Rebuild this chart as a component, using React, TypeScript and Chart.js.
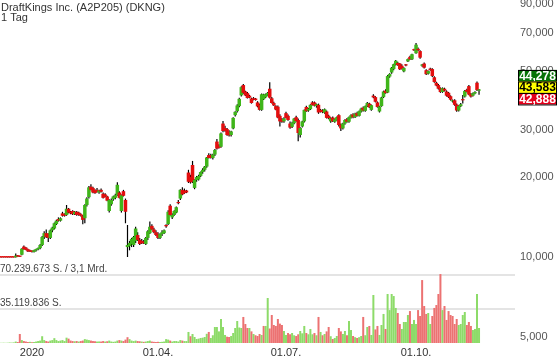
import React, { useEffect, useRef } from 'react';
import { Chart, registerables } from 'chart.js';

Chart.register(...registerables);

// [open, high, low, close] per trading day (index 0 = early Dec 2019)
const candles: number[][] = [
  [10.0,10.0,9.96,9.97],[10.0,10.0,9.96,9.97],[10.0,10.0,9.96,9.97],[10.0,10.0,9.96,9.97],
  [10.0,10.0,9.96,9.97],[10.0,10.0,9.96,9.97],[10.0,10.0,9.96,9.97],[10.0,10.0,9.96,9.97],
  [9.98,10.3,9.97,10.12],[10.12,10.18,10.02,10.05],[10.08,10.12,10.0,10.02],[10.2,10.8,10.15,10.75],
  [10.95,11.05,10.65,10.7],[10.85,10.9,10.6,10.65],[10.7,10.75,10.45,10.5],[10.6,10.65,10.45,10.5],
  [10.55,10.6,10.4,10.45],[10.45,10.65,10.4,10.6],[10.6,10.75,10.5,10.7],[10.7,10.85,10.6,10.8],
  [10.8,11.2,10.7,11.1],[11.1,12.0,11.0,11.9],[11.9,12.5,11.7,12.3],[12.3,12.7,11.8,11.9],
  [12.2,12.3,11.4,11.8],[11.8,12.7,11.7,12.6],[12.6,13.0,12.4,12.9],[12.8,13.5,12.7,13.4],
  [13.3,13.8,13.2,13.7],[13.9,14.1,13.6,13.7],[13.7,14.1,13.6,14.0],[14.6,14.8,14.2,14.3],
  [14.5,14.6,14.2,14.3],[14.4,15.7,14.3,15.2],[15.2,15.3,14.6,14.7],[14.8,14.9,14.5,14.6],
  [14.9,15.0,14.4,14.5],[14.5,14.9,14.4,14.8],[14.8,14.9,14.3,14.4],[14.7,14.8,14.3,14.4],
  [14.5,14.6,14.2,14.3],[14.3,14.4,13.3,13.8],[14.0,15.8,13.4,15.7],[15.7,16.8,15.5,16.6],
  [16.8,18.5,16.6,18.3],[18.4,18.8,17.8,17.9],[18.2,18.4,17.4,17.5],[17.8,18.0,17.3,17.4],
  [17.9,18.2,17.5,17.6],[17.5,17.9,17.3,17.8],[17.9,18.1,17.5,17.6],[17.3,17.5,16.6,16.7],
  [17.2,17.4,16.8,16.9],[16.9,17.0,16.2,16.3],[14.9,16.5,14.7,16.4],[15.8,16.6,15.6,16.4],
  [16.5,17.0,16.3,16.9],[16.7,17.3,16.5,17.1],[17.1,19.1,17.0,18.7],[17.5,17.7,16.6,16.7],
  [14.9,17.2,14.7,17.1],[17.7,17.9,16.9,17.0],[16.4,16.6,13.4,14.8],[10.9,13.2,10.0,11.1],
  [11.0,11.5,10.6,11.3],[11.2,11.8,10.9,11.7],[11.1,12.0,10.9,11.9],[11.5,13.0,11.3,12.8],
  [12.1,12.4,11.5,11.6],[11.6,11.8,11.1,11.2],[11.5,11.7,11.2,11.3],[11.4,11.6,11.2,11.25],
  [11.2,11.9,11.1,11.8],[11.8,12.6,11.6,12.5],[12.3,13.6,12.2,13.0],[13.1,13.3,12.6,12.7],
  [12.7,12.9,12.3,12.4],[12.4,12.6,12.0,12.1],[12.2,12.4,11.7,11.8],[11.8,12.3,11.7,12.2],
  [12.2,12.6,12.0,12.4],[12.3,12.7,12.2,12.6],[13.2,13.3,12.9,13.05],[13.3,15.0,13.2,14.8],
  [15.6,15.8,14.3,14.4],[14.1,14.6,13.9,14.4],[14.4,15.0,14.3,14.9],[14.7,15.5,14.6,15.4],
  [16.1,16.4,15.8,15.95],[16.6,18.0,16.4,17.9],[17.9,18.3,17.1,17.2],[17.8,18.1,17.3,17.4],
  [17.8,17.9,17.4,17.5],[20.8,21.3,19.0,19.2],[20.0,20.4,18.9,19.1],[22.2,23.0,19.0,19.2],
  [18.2,19.6,18.0,19.5],[19.5,20.2,19.2,20.0],[19.6,20.4,19.4,20.2],[20.2,21.0,20.0,20.9],
  [20.9,21.6,20.6,21.3],[21.3,22.0,21.0,21.9],[21.9,23.8,21.7,23.7],[24.2,24.6,23.5,23.6],
  [24.2,24.5,23.5,23.6],[23.6,24.5,23.3,24.3],[24.3,25.5,24.0,25.3],[27.2,27.8,25.4,25.6],
  [26.3,26.6,25.6,25.8],[26.0,29.4,25.8,29.2],[31.8,32.5,29.5,29.8],[30.6,31.2,29.6,29.9],
  [30.3,30.6,28.6,28.8],[29.6,30.0,28.4,28.7],[28.8,29.9,28.4,29.7],[30.5,33.6,30.3,33.4],
  [34.2,35.4,33.8,35.2],[35.4,37.6,35.0,37.2],[37.0,39.8,36.6,39.4],[40.6,43.9,40.2,43.6],
  [44.4,44.8,41.2,41.5],[42.0,42.3,40.4,40.6],[41.4,41.8,39.5,39.7],[40.5,40.8,39.6,39.8],
  [39.5,39.8,37.8,38.0],[39.6,40.0,38.9,39.1],[39.5,39.7,38.8,39.0],[38.2,38.6,36.6,36.9],
  [37.5,37.8,35.6,35.8],[35.8,41.3,35.5,41.0],[39.3,41.2,39.0,40.9],[40.0,41.3,39.7,41.0],
  [40.8,41.8,40.5,41.5],[43.0,45.5,39.5,39.8],[39.6,40.0,37.8,38.0],[38.0,38.4,37.0,37.2],
  [37.0,37.3,35.7,35.9],[36.8,37.2,33.3,33.5],[34.0,34.5,31.0,32.4],[33.0,33.4,32.0,32.3],
  [32.4,33.6,32.0,33.2],[34.8,35.2,33.2,33.4],[34.0,34.4,32.6,32.8],[31.8,32.4,30.4,30.7],
  [30.9,32.3,30.6,32.0],[31.9,33.4,31.6,33.2],[33.6,34.0,32.3,32.5],[32.8,33.2,27.3,29.3],
  [28.8,30.8,28.2,30.6],[31.0,32.6,30.7,32.4],[32.4,35.9,32.1,35.8],[36.7,37.1,35.2,35.4],
  [35.6,36.4,35.2,36.1],[36.0,37.6,35.8,37.4],[38.2,38.6,37.2,37.4],[38.2,38.5,36.9,37.1],
  [37.0,37.8,36.5,37.6],[37.4,37.8,34.6,35.0],[35.8,36.1,35.0,35.2],[35.6,36.0,34.8,35.1],
  [34.9,36.2,34.6,36.0],[35.3,35.6,33.2,33.4],[34.0,34.3,33.0,33.3],[32.4,33.6,32.0,33.3],
  [33.5,33.8,32.2,32.4],[32.3,33.2,32.0,33.0],[32.8,33.8,32.6,33.6],[34.2,34.5,31.0,31.4],
  [31.4,31.8,29.8,30.5],[30.5,32.0,30.2,31.8],[31.8,33.0,31.5,32.8],[33.0,33.4,32.0,32.3],
  [32.3,33.8,32.0,33.6],[33.5,34.5,33.2,34.2],[34.4,34.8,33.3,33.6],[33.6,34.9,33.4,34.6],
  [34.8,35.2,33.8,34.0],[34.0,35.6,33.8,35.4],[35.3,36.5,35.0,36.2],[36.5,36.9,35.3,35.6],
  [35.5,37.2,35.2,37.0],[37.0,38.3,36.7,38.0],[37.8,38.1,36.4,36.6],[35.8,37.5,35.5,37.3],
  [40.5,41.0,39.6,39.9],[40.0,40.3,38.2,38.4],[38.2,38.5,36.5,36.7],[35.3,37.1,35.0,36.9],
  [37.0,40.1,36.8,39.9],[40.0,42.3,39.7,42.0],[42.3,42.8,41.2,41.4],[41.6,48.4,41.4,48.0],
  [47.8,49.2,47.3,48.9],[49.5,51.9,49.0,51.6],[51.0,53.4,50.5,53.2],[53.0,55.2,52.6,54.8],
  [53.8,54.3,52.5,52.8],[53.5,53.8,50.6,50.9],[52.5,53.2,50.8,51.0],[50.0,51.8,49.6,51.5],
  [52.9,53.3,52.3,52.6],[54.5,55.9,54.2,55.6],[56.7,57.2,55.2,55.5],[55.5,58.3,55.2,58.0],
  [60.3,60.8,59.6,60.0],[58.5,63.9,58.2,63.0],[60.8,61.5,59.6,60.0],[59.6,60.0,55.8,56.3],
  [52.5,53.3,52.0,53.0],[53.5,54.0,51.2,51.6],[50.5,50.9,48.4,48.8],[49.0,50.4,48.7,50.1],
  [51.2,51.6,50.3,50.6],[51.0,51.4,47.6,48.0],[47.5,47.9,45.3,45.6],[45.3,45.7,43.9,44.2],
  [44.4,44.8,42.7,43.0],[43.2,43.5,41.5,41.8],[41.8,43.5,41.5,43.2],[43.0,43.4,42.0,42.3],
  [42.0,42.4,40.2,40.5],[41.5,41.8,39.7,40.0],[40.3,40.6,38.8,39.1],[38.5,39.2,38.2,38.8],
  [38.9,39.3,37.1,37.4],[37.5,37.8,35.2,35.6],[35.6,37.3,35.3,37.0],[37.0,38.0,36.7,37.6],
  [39.1,40.7,37.8,38.9],[40.2,42.5,39.9,42.2],[42.6,43.0,41.6,41.9],[44.0,44.4,40.6,40.9],
  [41.0,41.4,39.9,40.2],[40.5,41.6,40.2,41.3],[41.3,42.1,41.0,41.8],[45.3,45.8,42.2,42.5],
  [42.3,42.95,40.8,42.7],
];

// Volume per day, millions of shares
const volumes: number[] = [
  0.2,0.2,0.3,0.2,0.3,0.5,0.4,0.6,1.5,1.0,9.3,3.0,2.0,1.5,1.0,1.2,0.8,1.0,1.5,2.0,
  2.5,7.0,3.0,2.0,1.5,2.5,3.0,5.0,3.0,2.0,2.5,3.0,2.0,5.5,4.5,2.5,2.0,1.8,2.0,1.5,
  2.0,2.5,4.0,3.5,3.0,2.5,2.0,1.8,1.5,1.6,1.5,2.0,1.5,1.8,2.5,1.5,1.2,1.5,2.5,3.0,
  2.5,2.0,3.5,6.0,4.0,2.5,2.0,2.5,2.0,1.8,1.5,1.2,1.5,2.0,2.5,1.5,1.2,1.0,1.2,1.0,
  1.2,1.5,4.0,3.5,2.5,1.5,2.0,2.0,1.5,3.0,2.5,2.0,2.0,11.4,7.0,9.3,6.2,4.1,4.5,5.2,
  5.5,6.2,9.5,11.4,5.2,8.0,16.5,16.5,12.0,24.8,16.5,8.3,6.5,6.2,7.2,10.3,15.5,22.7,16.0,15.5,
  26.9,19.6,15.5,15.5,12.0,9.3,8.0,7.2,9.3,8.3,17.6,17.6,46.5,15.0,28.9,18.6,17.6,24.8,20.0,18.6,
  12.4,8.3,10.3,9.0,10.3,8.0,7.2,9.0,12.4,10.0,17.6,10.3,9.0,14.5,9.0,10.3,8.0,26.9,11.4,8.0,
  9.3,12.0,16.5,7.0,4.1,5.2,7.2,15.5,12.0,9.3,12.4,8.0,22.7,13.4,7.2,6.0,5.2,6.0,7.2,26.9,
  8.0,16.5,17.6,8.3,49.6,14.0,17.6,8.3,18.6,30.0,14.5,50.6,34.0,50.6,48.5,36.2,31.0,19.6,14.5,21.7,
  21.7,28.9,33.0,19.6,23.8,19.6,34.0,27.9,65.0,38.2,30.0,31.0,19.6,27.9,36.2,39.2,50.6,71.2,34.0,38.2,
  23.8,33.0,28.9,27.9,19.6,24.8,18.6,19.6,28.9,32.0,18.6,21.7,17.6,13.4,14.5,50.6,15.5,
];

const priceTicks = [5, 10, 20, 30, 50, 70, 90];
const dateTickIndex = [16, 78, 141, 205];
const dateTickLabels = ['2020', '01.04.', '01.07.', '01.10.'];
const quoteValues = [44.278, 43.583, 42.888];
const volumeGridValues = [35.119836, 70.239673];
const volumeGridLabels = ['35.119.836 S.', '70.239.673 S. / 3,1 Mrd.'];
const titleLines = ['DraftKings Inc. (A2P205) (DKNG)', '1 Tag'];

const FONT = '"Liberation Sans", Arial, sans-serif';
const UP = '#3fb51a';
const DOWN = '#e30e0e';
const VOL_UP = '#8ddb69';
const VOL_DOWN = '#ec7272';

const fmt = (v: number) => v.toFixed(3).replace('.', ',');

const overlay = {
  id: 'overlay',
  beforeDatasetsDraw(chart: any) {
    const { ctx, chartArea, scales } = chart;
    ctx.save();
    ctx.strokeStyle = '#e4e4e4';
    ctx.lineWidth = 2;
    volumeGridValues.forEach((v) => {
      const y = Math.round(scales.yv.getPixelForValue(v));
      ctx.beginPath();
      ctx.moveTo(chartArea.left, y);
      ctx.lineTo(chartArea.right, y);
      ctx.stroke();
    });
    ctx.restore();
  },
  afterDraw(chart: any) {
    const { ctx, chartArea, scales } = chart;
    ctx.save();
    ctx.fillStyle = '#333';
    ctx.font = `11px ${FONT}`;
    ctx.textAlign = 'left';
    ctx.textBaseline = 'alphabetic';
    ctx.fillText(titleLines[0], 1, 11);
    ctx.fillText(titleLines[1], 1, 20.5);
    ctx.font = `10px ${FONT}`;
    ctx.fillStyle = '#444';
    volumeGridValues.forEach((v, i) => {
      const y = scales.yv.getPixelForValue(v);
      ctx.fillText(volumeGridLabels[i], 0, y - 3);
    });
    ctx.font = `11px ${FONT}`;
    ctx.fillStyle = '#333';
    ctx.textAlign = 'center';
    ctx.textBaseline = 'middle';
    dateTickIndex.forEach((idx, i) => {
      const x = scales.x.getPixelForValue(idx);
      ctx.fillText(dateTickLabels[i], x, 353);
    });
    ctx.textAlign = 'left';
    ctx.fillStyle = '#555';
    priceTicks.forEach((p) => {
      const y = scales.y.getPixelForValue(p);
      ctx.fillText(fmt(p), chartArea.right + 5, y);
    });
    const yLast = scales.y.getPixelForValue(quoteValues[1]);
    const h = 11.5;
    const x0 = chartArea.right + 3;
    const w = 39;
    const boxes = [
      { bg: '#067306', fg: '#fff', top: yLast - h / 2 - h },
      { bg: '#ffff00', fg: '#000', top: yLast - h / 2 },
      { bg: '#e3001b', fg: '#fff', top: yLast + h / 2 },
    ];
    ctx.font = `bold 12px ${FONT}`;
    ctx.textAlign = 'center';
    boxes.forEach((b, i) => {
      ctx.fillStyle = b.bg;
      ctx.fillRect(x0, b.top, w, h);
      ctx.strokeStyle = '#000';
      ctx.lineWidth = 1;
      ctx.strokeRect(x0 + 0.5, b.top + 0.5, w - 1, h);
      ctx.fillStyle = b.fg;
      ctx.fillText(fmt(quoteValues[i]), x0 + w / 2, b.top + h / 2 + 0.5);
    });
    ctx.restore();
  },
};

export default function App() {
  const ref = useRef<HTMLCanvasElement | null>(null);
  useEffect(() => {
    document.body.style.margin = '0';
    const canvas = ref.current;
    if (!canvas) return;
    const wickData = candles.map((c, i) => ({ x: i, y: [c[2], c[1]] }));
    const bodyData = candles.map((c, i) => ({ x: i, y: [c[0], c[3]] }));
    const bodyColors = candles.map((c) => (c[3] >= c[0] ? UP : DOWN));
    const volData = volumes.map((v, i) => ({ x: i, y: v }));
    const volColors = volumes.map((_, i) =>
      i === 0 || candles[i][3] >= candles[i - 1][3] ? VOL_UP : VOL_DOWN
    );
    const chart = new Chart(canvas, {
      type: 'bar',
      data: {
        datasets: [
          {
            label: 'body',
            data: bodyData as any,
            yAxisID: 'y',
            backgroundColor: bodyColors,
            barThickness: 3.5,
            minBarLength: 1.2,
            grouped: false,
            order: 0,
            borderWidth: 0,
            inflateAmount: 0,
          } as any,
          {
            label: 'wick',
            data: wickData as any,
            yAxisID: 'y',
            backgroundColor: '#000',
            barThickness: 1.2,
            grouped: false,
            order: 1,
            borderWidth: 0,
            inflateAmount: 0,
          } as any,
          {
            label: 'volume',
            data: volData as any,
            yAxisID: 'yv',
            backgroundColor: volColors,
            barThickness: 2,
            grouped: false,
            order: 2,
            borderWidth: 0,
            inflateAmount: 0,
          } as any,
        ],
      },
      options: {
        animation: false,
        responsive: false,
        maintainAspectRatio: false,
        events: [],
        layout: { padding: { left: 0, right: 45, top: 0, bottom: 18 } },
        plugins: { legend: { display: false }, tooltip: { enabled: false } },
        scales: {
          x: { type: 'linear', min: 0.25, max: 253.7, offset: false, display: false },
          y: { type: 'logarithmic', min: 4.665, max: 92.8, display: false },
          yv: { type: 'linear', min: -2.07, max: 354.3, display: false, beginAtZero: false },
        },
      } as any,
      plugins: [overlay],
    });
    return () => chart.destroy();
  }, []);
  return (
    <div style={{ position: 'fixed', left: 0, top: 0, width: 560, height: 363, background: '#fff' }}>
      <canvas ref={ref} width={560} height={363} style={{ display: 'block' }} />
    </div>
  );
}
